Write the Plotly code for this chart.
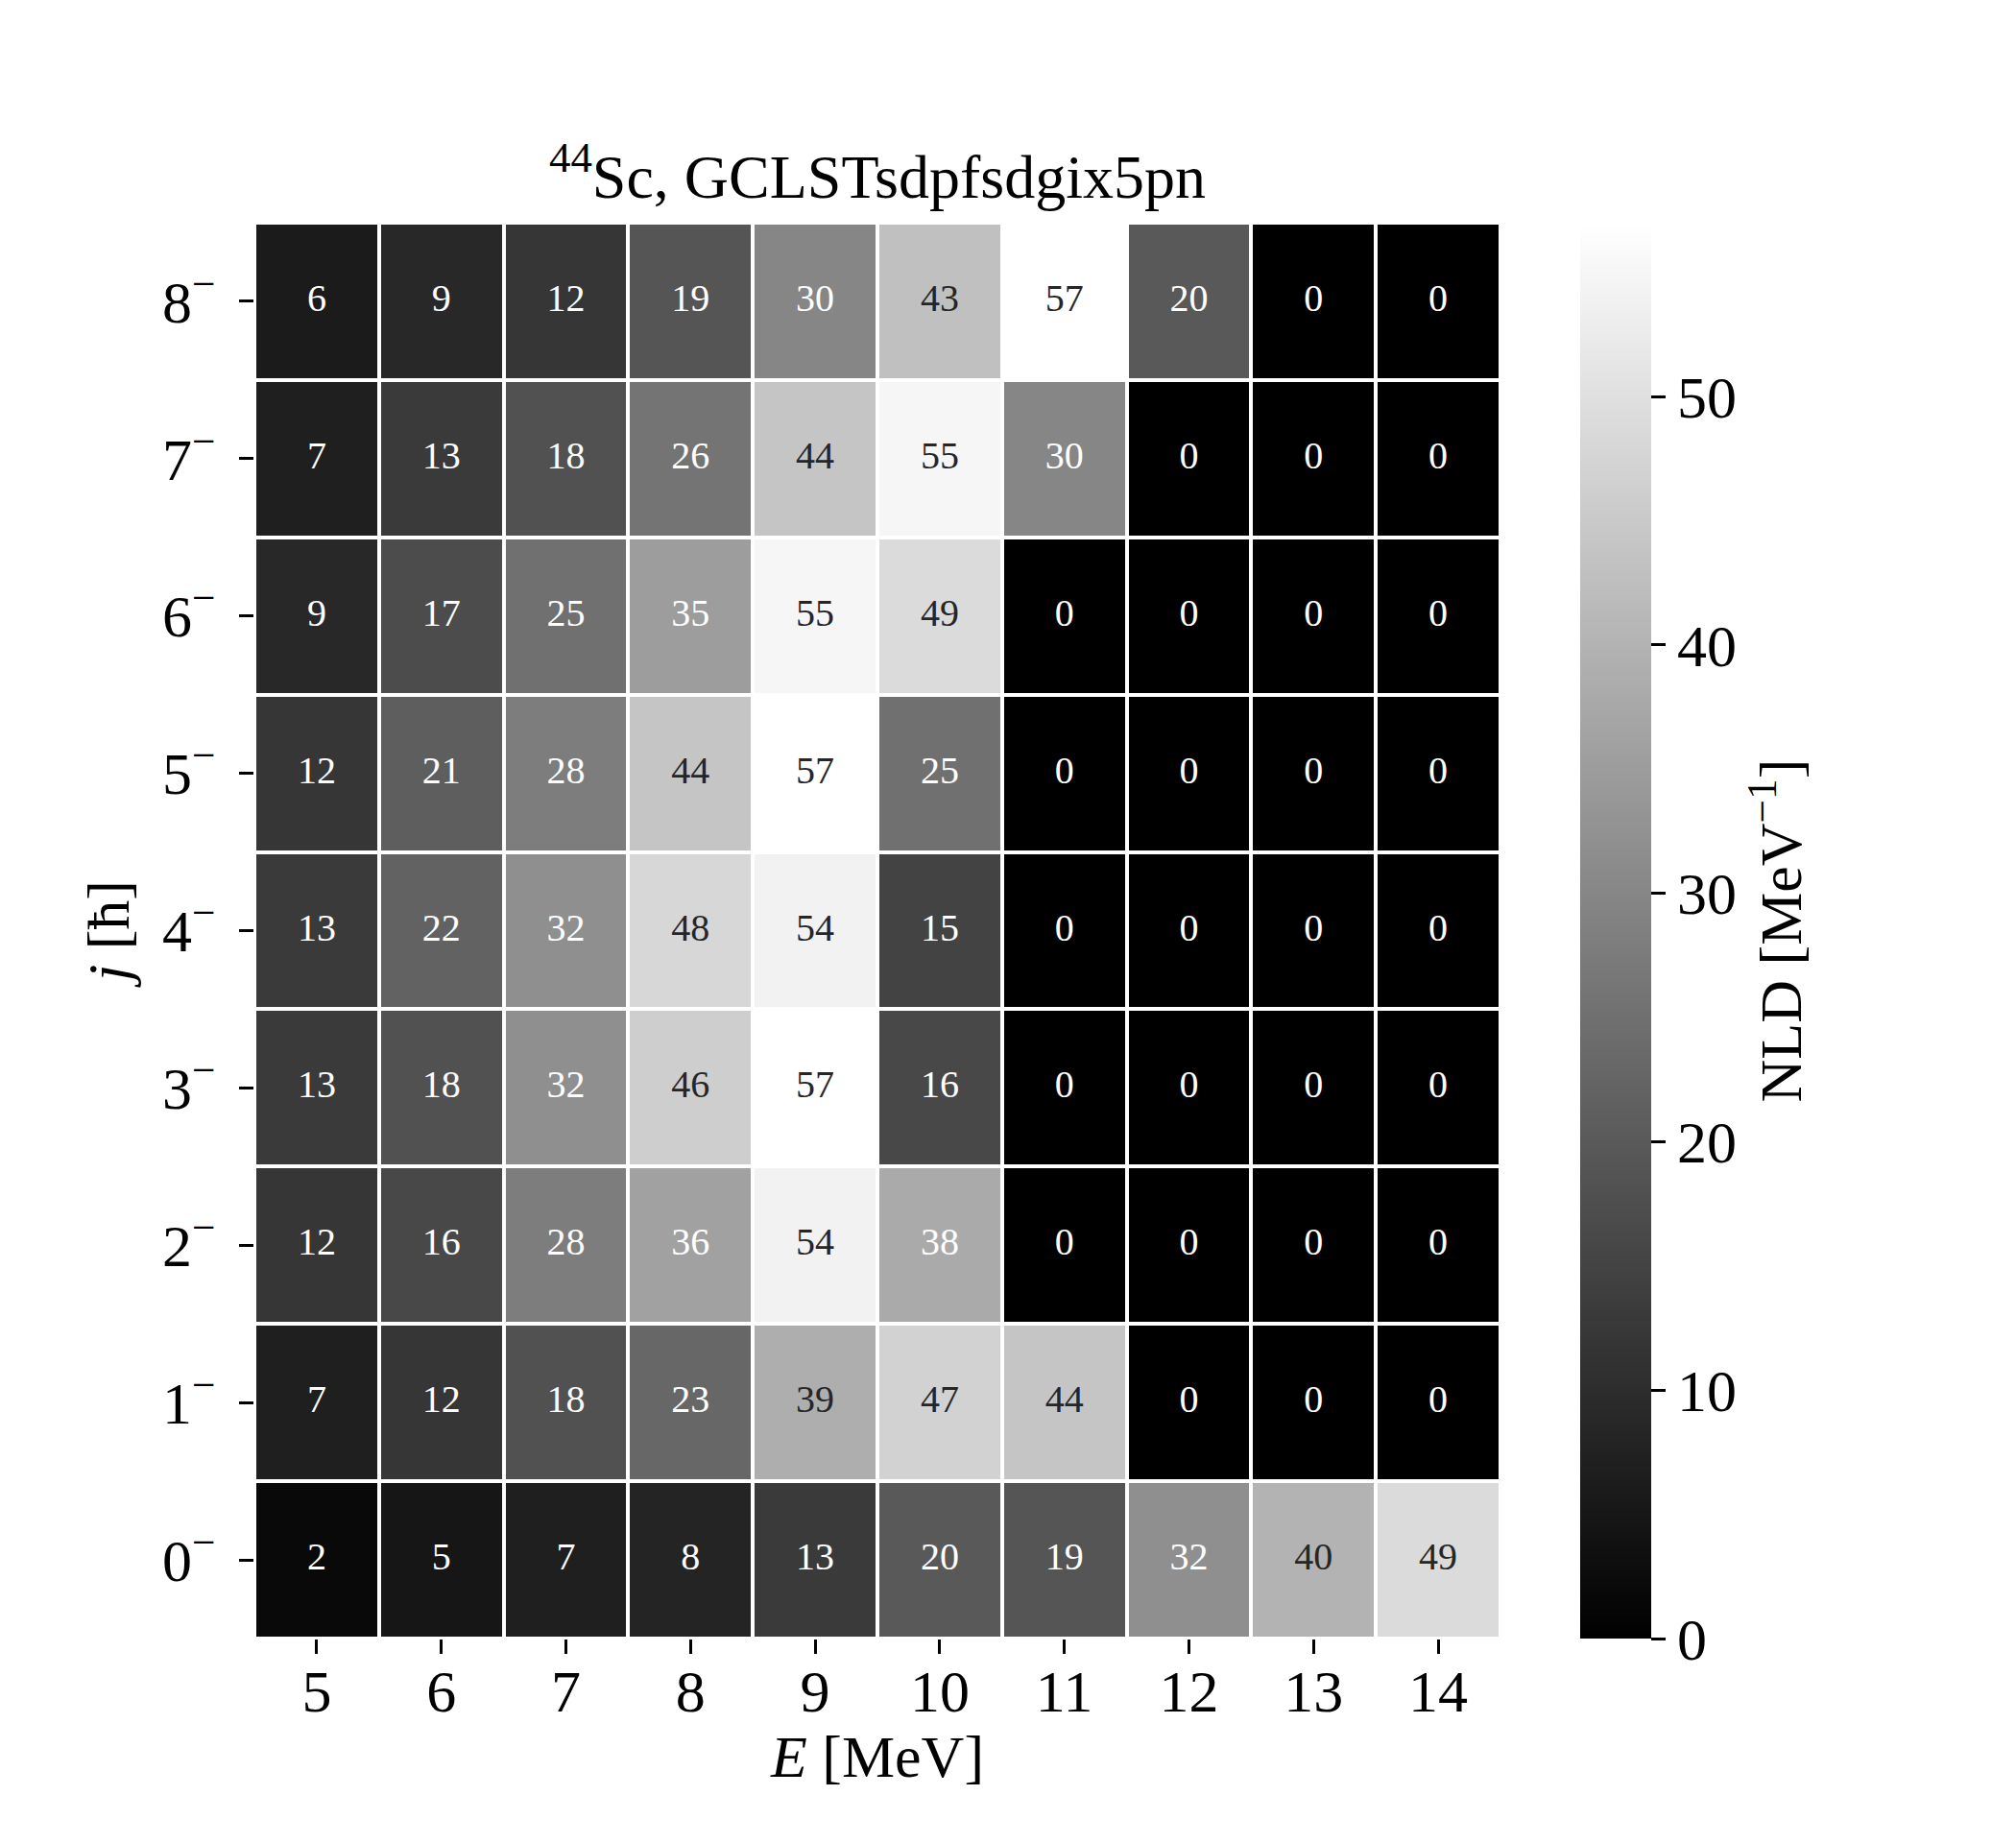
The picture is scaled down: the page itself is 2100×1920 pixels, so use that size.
import plotly.graph_objects as go

# excitation energy bins (MeV) and angular momentum j (hbar), negative parity
energies = [5, 6, 7, 8, 9, 10, 11, 12, 13, 14]
spins = [0, 1, 2, 3, 4, 5, 6, 7, 8]
spin_labels = ["0<sup>−</sup>", "1<sup>−</sup>", "2<sup>−</sup>", "3<sup>−</sup>", "4<sup>−</sup>",
               "5<sup>−</sup>", "6<sup>−</sup>", "7<sup>−</sup>", "8<sup>−</sup>"]

# NLD values, one row per j (0- at the bottom)
nld_j0 = [2, 5, 7, 8, 13, 20, 19, 32, 40, 49]
nld_j1 = [7, 12, 18, 23, 39, 47, 44, 0, 0, 0]
nld_j2 = [12, 16, 28, 36, 54, 38, 0, 0, 0, 0]
nld_j3 = [13, 18, 32, 46, 57, 16, 0, 0, 0, 0]
nld_j4 = [13, 22, 32, 48, 54, 15, 0, 0, 0, 0]
nld_j5 = [12, 21, 28, 44, 57, 25, 0, 0, 0, 0]
nld_j6 = [9, 17, 25, 35, 55, 49, 0, 0, 0, 0]
nld_j7 = [7, 13, 18, 26, 44, 55, 30, 0, 0, 0]
nld_j8 = [6, 9, 12, 19, 30, 43, 57, 20, 0, 0]

z = [nld_j0, nld_j1, nld_j2, nld_j3, nld_j4, nld_j5, nld_j6, nld_j7, nld_j8]
zmax = max(max(row) for row in z)

font_family = "Liberation Serif"

fig = go.Figure()
fig.add_trace(go.Heatmap(
    x=energies, y=spins, z=z,
    zmin=0, zmax=zmax,
    colorscale=[[0, "#000000"], [1, "#ffffff"]],
    xgap=4, ygap=4,
    hoverinfo="skip",
    colorbar=dict(
        x=1.064, xanchor="left", xpad=0, ypad=0,
        y=0.5, yanchor="middle", len=1.0, lenmode="fraction",
        thickness=74, thicknessmode="pixels",
        outlinewidth=0,
        tickmode="array", tickvals=[0, 10, 20, 30, 40, 50],
        ticks="outside", ticklen=15, tickwidth=3, tickcolor="black",
        tickfont=dict(family=font_family, size=62, color="black"),
        title=dict(text="NLD [MeV<sup>−1</sup>]", side="right",
                   font=dict(family=font_family, size=62, color="black")),
    ),
))

# cell annotations, text colour chosen like seaborn (dark text on light cells)
tx, ty, tt, tc = [], [], [], []
for j, row in zip(spins, z):
    for e, v in zip(energies, row):
        tx.append(e)
        ty.append(j)
        tt.append(str(v))
        g = v / zmax
        lum = ((g + 0.055) / 1.055) ** 2.4
        tc.append("#262626" if lum > 0.408 else "#ffffff")

fig.add_trace(go.Scatter(
    x=tx, y=ty, text=tt, mode="text",
    textfont=dict(family=font_family, size=40, color=tc),
    hoverinfo="skip", showlegend=False,
))

# page body adds 8px, so margins are shifted by that amount
fig.update_layout(
    width=2100, height=1920,
    margin=dict(l=257, r=545, t=224, b=221),
    paper_bgcolor="white", plot_bgcolor="white",
    font=dict(family=font_family, color="black"),
    showlegend=False,
    title=dict(text="<sup>44</sup>Sc, GCLSTsdpfsdgix5pn",
               x=0.5, xref="paper", xanchor="center",
               y=1, yref="paper", yanchor="bottom",
               pad=dict(b=26),
               font=dict(family=font_family, size=64, color="black")),
    xaxis=dict(
        range=[4.5, 14.5], tickmode="array", tickvals=energies,
        ticks="outside", ticklen=15, tickwidth=3, tickcolor="black",
        ticklabelstandoff=-14,
        tickfont=dict(family=font_family, size=62),
        showgrid=False, zeroline=False, showline=False,
        title=dict(text="<i>E</i> [MeV]", font=dict(family=font_family, size=62), standoff=4),
    ),
    yaxis=dict(
        range=[-0.5, 8.5], tickmode="array", tickvals=spins, ticktext=spin_labels,
        ticks="outside", ticklen=15, tickwidth=3, tickcolor="black",
        ticklabelstandoff=12,
        tickfont=dict(family=font_family, size=62),
        showgrid=False, zeroline=False, showline=False,
        title=dict(text="<i>j</i> [ħ]", font=dict(family=font_family, size=62), standoff=14),
    ),
)

fig.write_html("out.html")
